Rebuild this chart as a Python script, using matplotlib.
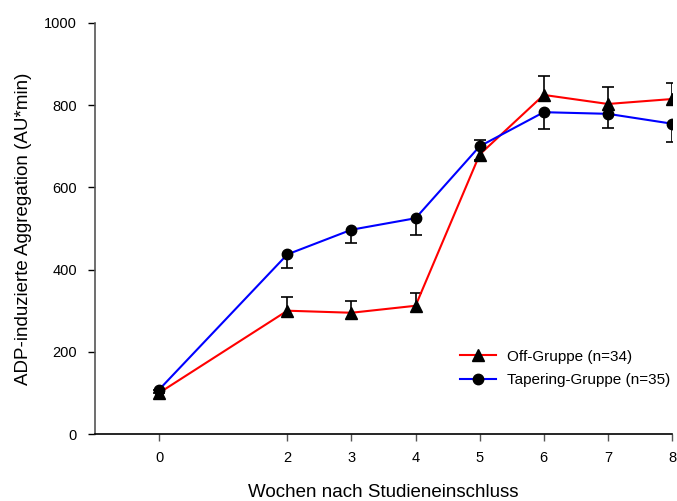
import matplotlib
matplotlib.use("Agg")
import matplotlib.pyplot as plt
import numpy as np

plt.rcParams['font.family'] = ['Liberation Sans', 'DejaVu Sans']

weeks = [0, 2, 3, 4, 5, 6, 7, 8]
off_vals = [100, 300, 295, 312, 680, 825, 803, 815]
off_err_up = [8, 33, 28, 30, 35, 46, 41, 39]
tap_vals = [108, 437, 497, 525, 700, 783, 779, 755]
tap_err_down = [8, 33, 32, 41, 33, 41, 34, 45]
xticks = [0, 2, 3, 4, 5, 6, 7, 8]
yticks = [0, 200, 400, 600, 800, 1000]

fig = plt.figure(figsize=(6.77, 5.01), dpi=100)
ax = fig.add_axes([95/677, 1-434/501, (672-95)/677, (434-23)/501])

w = np.array(weeks)
ov = np.array(off_vals)
oe = np.array(off_err_up)
tv = np.array(tap_vals)
te = np.array(tap_err_down)

# one-sided error bars
ax.vlines(w, ov, ov + oe, color='black', lw=1.2, zorder=2)
ax.plot(w, ov + oe, ls='none', marker='_', ms=8, mew=1.2, color='black', zorder=2)
ax.vlines(w, tv - te, tv, color='black', lw=1.2, zorder=2)
ax.plot(w, tv - te, ls='none', marker='_', ms=8, mew=1.2, color='black', zorder=2)

ax.plot(w, ov, color='red', lw=1.5, marker='^', ms=8, mfc='black', mec='black',
        label='Off-Gruppe (n=34)', zorder=3)
ax.plot(w, tv, color='blue', lw=1.5, marker='o', ms=7.5, mfc='black', mec='black',
        label='Tapering-Gruppe (n=35)', zorder=3)

ax.set_xlim(-1, 8)
ax.set_ylim(0, 1000)
ax.set_xticks(xticks)
ax.set_yticks(yticks)
ax.spines['top'].set_visible(False)
ax.spines['right'].set_visible(False)
ax.spines['left'].set_color('#555555')
ax.spines['left'].set_linewidth(1.2)
ax.spines['bottom'].set_linewidth(1.2)
ax.tick_params(axis='both', direction='out', length=5, labelsize=10.5, width=1)
ax.tick_params(axis='x', pad=7, colors='#555555', labelcolor='black')
ax.tick_params(axis='y', pad=8)

ax.set_ylabel('ADP-induzierte Aggregation (AU*min)', fontsize=13.5, labelpad=9)
ax.set_xlabel('Wochen nach Studieneinschluss', fontsize=13.5, labelpad=14)

ax.legend(loc='lower right', bbox_to_anchor=(1.0 + 12/577, 0.081), frameon=False,
          fontsize=11, handlelength=2.35, handletextpad=0.7, labelspacing=0.6)

fig.savefig('out.png', dpi=100)
